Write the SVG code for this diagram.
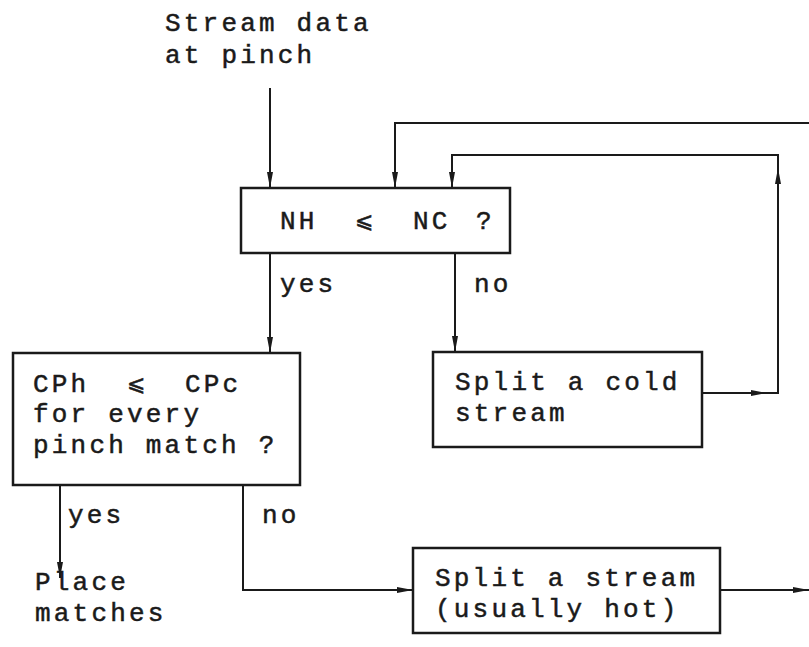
<svg xmlns="http://www.w3.org/2000/svg" width="809" height="647" viewBox="0 0 809 647">
  <style>
    .box { fill: none; stroke: #1a1a1a; stroke-width: 2.5; }
    .wire { fill: none; stroke: #1a1a1a; stroke-width: 2; }
    text { font-family: "Liberation Mono", "DejaVu Sans Mono", monospace; font-size: 26px; letter-spacing: 3.2px; fill: #1a1a1a; stroke: #1a1a1a; stroke-width: 0.5; }
    .sym { font-family: "DejaVu Sans", sans-serif; font-size: 22px; letter-spacing: 0; }
  </style>
  <defs>
    <marker id="arrow" viewBox="0 0 16 8" refX="16" refY="4" markerWidth="16" markerHeight="8" markerUnits="userSpaceOnUse" orient="auto">
      <path d="M0,1 L16,4 L0,7 Z" fill="#1a1a1a"/>
    </marker>
  </defs>

  <rect width="809" height="647" fill="#ffffff"/>

  <!-- input label -->
  <g id="input">
    <text x="165" y="31">Stream data</text>
    <text x="165" y="63">at pinch</text>
  </g>

  <g id="connectors">
    <!-- input into first test -->
    <path class="wire" d="M270,88 V188" marker-end="url(#arrow)"/>
    <!-- return from the far right -->
    <path class="wire" d="M809,123 H395 V188" marker-end="url(#arrow)"/>
    <!-- loop back from cold split -->
    <path class="wire" d="M702,393 H767" marker-end="url(#arrow)"/>
    <path class="wire" d="M765,393 H778 V168" marker-end="url(#arrow)"/>
    <path class="wire" d="M778,170 V155 H452 V188" marker-end="url(#arrow)"/>
    <!-- first test branches -->
    <path class="wire" d="M270,253 V353" marker-end="url(#arrow)"/>
    <path class="wire" d="M455,253 V352" marker-end="url(#arrow)"/>
    <!-- second test branches -->
    <path class="wire" d="M60,485 V578" marker-end="url(#arrow)"/>
    <path class="wire" d="M243,485 V590 H413" marker-end="url(#arrow)"/>
    <path class="wire" d="M720,590 H809" marker-end="url(#arrow)"/>
    <!-- branch labels -->
    <text x="280" y="292">yes</text>
    <text x="474" y="292">no</text>
    <text x="68" y="523">yes</text>
    <text x="262" y="523">no</text>
  </g>

  <g id="test-nh-nc">
    <rect class="box" x="241" y="188" width="269" height="65"/>
    <text x="280" y="229">NH</text>
    <text class="sym" x="355" y="228">⩽</text>
    <text x="413" y="229">NC</text>
    <text x="476" y="229">?</text>
  </g>

  <g id="test-cp">
    <rect class="box" x="13" y="353" width="287" height="132"/>
    <text x="33" y="392">CPh</text>
    <text class="sym" x="127" y="391">⩽</text>
    <text x="185" y="392">CPc</text>
    <text x="33" y="422">for  every</text>
    <text x="33" y="453">pinch match ?</text>
  </g>

  <g id="split-cold">
    <rect class="box" x="433" y="352" width="269" height="95"/>
    <text x="455" y="390">Split a cold</text>
    <text x="455" y="421">stream</text>
  </g>

  <g id="place-matches">
    <text x="35" y="590">Place</text>
    <text x="35" y="621">matches</text>
  </g>

  <g id="split-stream">
    <rect class="box" x="413" y="548" width="307" height="85"/>
    <text x="435" y="586">Split a stream</text>
    <text x="435" y="617">(usually hot)</text>
  </g>
</svg>
